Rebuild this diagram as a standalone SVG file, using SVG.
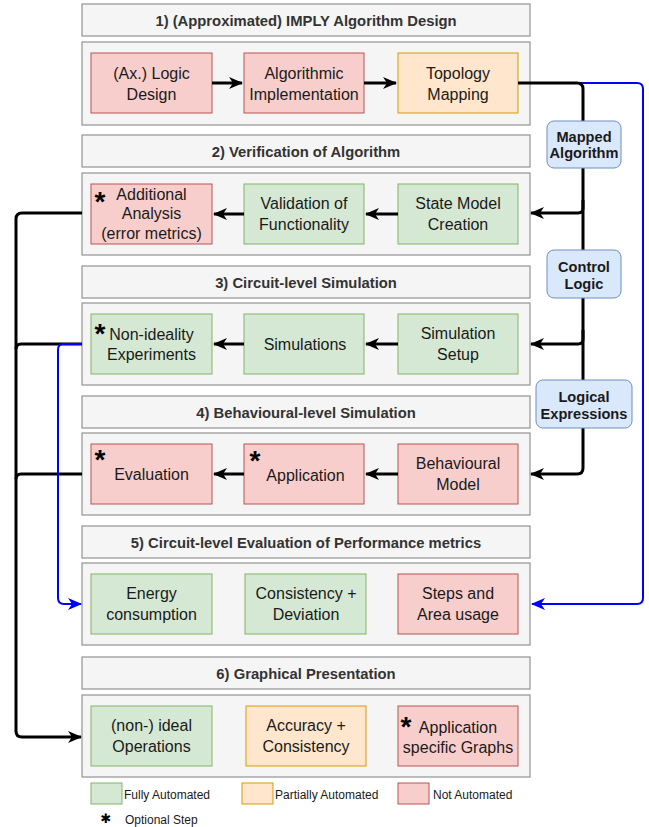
<svg xmlns="http://www.w3.org/2000/svg" width="649" height="827" viewBox="0 0 649 827">
<defs>
<marker id="ab" markerUnits="userSpaceOnUse" markerWidth="14" markerHeight="12" viewBox="0 0 14 12" refX="13" refY="6" orient="auto">
<path d="M0,0 L14,6 L0,12 L4,6 z" fill="#000"/>
</marker>
<marker id="au" markerUnits="userSpaceOnUse" markerWidth="14" markerHeight="12" viewBox="0 0 14 12" refX="13" refY="6" orient="auto">
<path d="M0,0 L14,6 L0,12 L4,6 z" fill="#0000ff"/>
</marker>
<style>
.hdr{fill:#f5f5f5;stroke:#9a9a9a;stroke-width:1.3}
.ht{font-family:"Liberation Sans",Arial,sans-serif;font-size:14.8px;font-weight:bold;fill:#333;text-anchor:middle}
.r{fill:#f8cecc;stroke:#b85450;stroke-width:1}
.g{fill:#d5e8d4;stroke:#82b366;stroke-width:1}
.o{fill:#ffe6cc;stroke:#d79b00;stroke-width:1}
.bt{font-family:"Liberation Sans",Arial,sans-serif;font-size:16px;fill:#1a1a1a;text-anchor:middle}
.lb{fill:#dae8fc;stroke:#6c8ebf;stroke-width:1}
.lt{font-family:"Liberation Sans",Arial,sans-serif;font-size:14.6px;font-weight:bold;fill:#1a1a1a;text-anchor:middle}
.st{font-family:"Liberation Sans",Arial,sans-serif;font-size:28px;font-weight:bold;fill:#000;text-anchor:middle}
.lg{font-family:"Liberation Sans",Arial,sans-serif;font-size:12px;fill:#1a1a1a}
.k{fill:none;stroke:#000;stroke-width:3;stroke-linejoin:round}
.b{fill:none;stroke:#0000ff;stroke-width:2;stroke-linejoin:round}
</style>
</defs>
<rect width="649" height="827" fill="#fff"/>

<!-- Section 1 -->
<g id="sec1">
<rect class="hdr" x="82" y="4" width="448" height="32"/>
<text class="ht" x="306" y="25.5">1) (Approximated) IMPLY Algorithm Design</text>
<rect class="hdr" x="82" y="42" width="448" height="83"/>
</g>
<g id="logic-design"><rect class="r" x="91" y="53" width="121" height="60"/><text class="bt" x="151.5" y="79">(Ax.) Logic</text><text class="bt" x="151.5" y="100">Design</text></g>
<g id="alg-impl"><rect class="r" x="244" y="53" width="120" height="60"/><text class="bt" x="304" y="79">Algorithmic</text><text class="bt" x="304" y="100">Implementation</text></g>
<g id="topology"><rect class="o" x="398" y="53" width="120" height="60"/><text class="bt" x="458" y="79">Topology</text><text class="bt" x="458" y="100">Mapping</text></g>

<!-- Section 2 -->
<g id="sec2">
<rect class="hdr" x="82" y="135" width="448" height="32"/>
<text class="ht" x="306" y="157">2) Verification of Algorithm</text>
<rect class="hdr" x="82" y="173" width="448" height="82"/>
</g>
<g id="add-analysis"><rect class="r" x="91" y="184" width="121" height="60"/><text class="st" x="100" y="211">*</text><text class="bt" x="151.5" y="200">Additional</text><text class="bt" x="151.5" y="219">Analysis</text><text class="bt" x="151.5" y="239">(error metrics)</text></g>
<g id="validation"><rect class="g" x="244" y="184" width="120" height="60"/><text class="bt" x="304" y="209">Validation of</text><text class="bt" x="304" y="230">Functionality</text></g>
<g id="state-model"><rect class="g" x="398" y="184" width="120" height="60"/><text class="bt" x="458" y="209">State Model</text><text class="bt" x="458" y="230">Creation</text></g>

<!-- Section 3 -->
<g id="sec3">
<rect class="hdr" x="82" y="266" width="448" height="32"/>
<text class="ht" x="306" y="288">3) Circuit-level Simulation</text>
<rect class="hdr" x="82" y="303" width="448" height="82"/>
</g>
<g id="non-ideality"><rect class="g" x="91" y="314" width="121" height="60"/><text class="st" x="100" y="343">*</text><text class="bt" x="151.5" y="340">Non-ideality</text><text class="bt" x="151.5" y="360">Experiments</text></g>
<g id="simulations"><rect class="g" x="244" y="314" width="120" height="60"/><text class="bt" x="305" y="350">Simulations</text></g>
<g id="sim-setup"><rect class="g" x="398" y="314" width="120" height="60"/><text class="bt" x="458" y="339">Simulation</text><text class="bt" x="458" y="360">Setup</text></g>

<!-- Section 4 -->
<g id="sec4">
<rect class="hdr" x="82" y="396" width="448" height="32"/>
<text class="ht" x="306" y="418">4) Behavioural-level Simulation</text>
<rect class="hdr" x="82" y="433" width="448" height="82"/>
</g>
<g id="evaluation"><rect class="r" x="91" y="444" width="121" height="60"/><text class="st" x="100" y="469">*</text><text class="bt" x="151.5" y="480">Evaluation</text></g>
<g id="application"><rect class="r" x="244" y="444" width="120" height="60"/><text class="st" x="255" y="470">*</text><text class="bt" x="305.5" y="481">Application</text></g>
<g id="behav-model"><rect class="r" x="398" y="444" width="120" height="60"/><text class="bt" x="458" y="469">Behavioural</text><text class="bt" x="458" y="490">Model</text></g>

<!-- Section 5 -->
<g id="sec5">
<rect class="hdr" x="82" y="526" width="448" height="32"/>
<text class="ht" x="306" y="548">5) Circuit-level Evaluation of Performance metrics</text>
<rect class="hdr" x="82" y="563" width="448" height="82"/>
</g>
<g id="energy"><rect class="g" x="91" y="574" width="121" height="60"/><text class="bt" x="151.5" y="599">Energy</text><text class="bt" x="151.5" y="620">consumption</text></g>
<g id="consistency"><rect class="g" x="245" y="574" width="121" height="60"/><text class="bt" x="306" y="599">Consistency +</text><text class="bt" x="306" y="620">Deviation</text></g>
<g id="steps-area"><rect class="r" x="398" y="574" width="120" height="60"/><text class="bt" x="458" y="599">Steps and</text><text class="bt" x="458" y="620">Area usage</text></g>

<!-- Section 6 -->
<g id="sec6">
<rect class="hdr" x="82" y="657" width="448" height="32"/>
<text class="ht" x="306" y="679">6) Graphical Presentation</text>
<rect class="hdr" x="82" y="695" width="448" height="82"/>
</g>
<g id="ideal-ops"><rect class="g" x="91" y="706" width="121" height="60"/><text class="bt" x="151.5" y="731">(non-) ideal</text><text class="bt" x="151.5" y="752">Operations</text></g>
<g id="accuracy"><rect class="o" x="246" y="706" width="120" height="60"/><text class="bt" x="306" y="731">Accuracy +</text><text class="bt" x="306" y="752">Consistency</text></g>
<g id="app-graphs"><rect class="r" x="398" y="706" width="120" height="60"/><text class="st" x="406" y="736">*</text><text class="bt" x="458" y="733">Application</text><text class="bt" x="458" y="753">specific Graphs</text></g>

<!-- Connectors -->
<g id="connectors">
<path class="k" d="M212,83 H242" marker-end="url(#ab)"/>
<path class="k" d="M364,83 H396" marker-end="url(#ab)"/>
<path class="k" d="M398,214 H366" marker-end="url(#ab)"/>
<path class="k" d="M244,214 H214" marker-end="url(#ab)"/>
<path class="k" d="M398,344 H366" marker-end="url(#ab)"/>
<path class="k" d="M244,344 H214" marker-end="url(#ab)"/>
<path class="k" d="M398,474 H366" marker-end="url(#ab)"/>
<path class="k" d="M244,474 H214" marker-end="url(#ab)"/>

<path class="b" d="M518,83 H637 Q643,83 643,89 V598 Q643,604 637,604 H532" marker-end="url(#au)"/>
<path class="k" d="M518,83 H577 Q583,83 583,89 V208 Q583,213 578,213 H531" marker-end="url(#ab)"/>
<path class="k" d="M583,200 V339 Q583,344 578,344 H531" marker-end="url(#ab)"/>
<path class="k" d="M583,330 V468 Q583,474 577,474 H531" marker-end="url(#ab)"/>

<path class="k" d="M82,213 H22 Q16,213 16,219 V731 Q16,737 22,737 H81" marker-end="url(#ab)"/>
<path class="k" d="M82,344 H21 Q16,344 16,349"/>
<path class="k" d="M82,474 H21 Q16,474 16,479"/>
<path class="b" d="M82,344 H63 Q58,344 58,350 V598 Q58,604 64,604 H81" marker-end="url(#au)"/>
</g>

<!-- Connector labels -->
<g id="lbl-mapped"><rect class="lb" x="547" y="121" width="74" height="47" rx="7"/><text class="lt" x="584" y="142">Mapped</text><text class="lt" x="584" y="158">Algorithm</text></g>
<g id="lbl-control"><rect class="lb" x="547" y="250" width="74" height="48" rx="7"/><text class="lt" x="584" y="272">Control</text><text class="lt" x="584" y="289">Logic</text></g>
<g id="lbl-logical"><rect class="lb" x="536" y="380" width="96" height="48" rx="7"/><text class="lt" x="584" y="402">Logical</text><text class="lt" x="584" y="419">Expressions</text></g>

<!-- Legend -->
<g id="legend">
<rect class="g" x="91" y="783" width="31" height="21"/><text class="lg" x="124" y="799">Fully Automated</text>
<rect class="o" x="242" y="783" width="31" height="21"/><text class="lg" x="275" y="799">Partially Automated</text>
<rect class="r" x="398" y="783" width="31" height="21"/><text class="lg" x="433" y="799">Not Automated</text>
<text x="106" y="823" font-family="DejaVu Sans,sans-serif" font-size="13" font-weight="bold" text-anchor="middle" fill="#000">✱</text><text class="lg" x="125" y="824">Optional Step</text>
</g>
</svg>
